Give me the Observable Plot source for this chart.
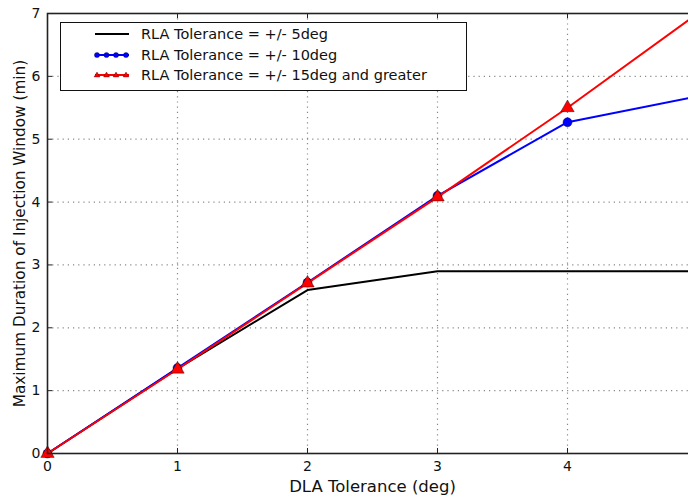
<!DOCTYPE html>
<html>
<head>
<meta charset="utf-8">
<script src="https://cdn.jsdelivr.net/npm/d3@7"></script>
<script src="https://cdn.jsdelivr.net/npm/@observablehq/plot@0.6"></script>
<style>
  html, body { margin: 0; padding: 0; background: #fff; overflow: hidden; }
  #wrap { position: relative; width: 688px; height: 497px; overflow: hidden; }
  #chart svg { max-width: none !important; }
  #legend { position: absolute; left: 60px; top: 22px; width: 405px; height: 67px;
    border: 1.5px solid #111; background: #fff; font-family: "DejaVu Sans", sans-serif; font-size: 14.5px; color: #111; }
  .row { position: absolute; left: 0; height: 20px; display: flex; align-items: center; white-space: nowrap; }
  .row svg { margin-left: 32px; margin-right: 10px; }
</style>
</head>
<body>
<div id="wrap"><div id="chart"></div><div id="legend"></div></div>
<script>
const dla = [0, 1, 2, 3, 4, 5];
const rla5 = [0, 1.35, 2.6, 2.9, 2.9, 2.9];
const rla10 = [0, 1.36, 2.72, 4.1, 5.27, 5.68];
const rla15 = [0, 1.34, 2.71, 4.08, 5.5, 7.0];
const xTicks = [0, 1, 2, 3, 4, 5];
const yTicks = [0, 1, 2, 3, 4, 5, 6, 7];
const seriesNames = ["RLA Tolerance = +/- 5deg", "RLA Tolerance = +/- 10deg", "RLA Tolerance = +/- 15deg and greater"];
const seriesColors = ["#000000", "#0000ff", "#ff0000"];
const xLabel = "DLA Tolerance (deg)";
const yLabel = "Maximum Duration of Injection Window (min)";

const toRows = (ys) => dla.map((x, i) => ({x, y: ys[i]}));
const s5 = toRows(rla5), s10 = toRows(rla10), s15 = toRows(rla15);

const chart = Plot.plot({
  width: 700,
  height: 497,
  marginLeft: 47,
  marginRight: 3,
  marginTop: 13,
  marginBottom: 44,
  style: {fontFamily: "DejaVu Sans, sans-serif", fontSize: "14px", color: "#111", background: "#fff", maxWidth: "none"},
  x: {domain: [0, 5]},
  y: {domain: [0, 7]},
  marks: [
    Plot.gridX(xTicks.slice(1, -1), {stroke: "#888", strokeOpacity: 1, strokeDasharray: "1.2,4", strokeWidth: 1.2}),
    Plot.gridY(yTicks.slice(1, -1), {stroke: "#888", strokeOpacity: 1, strokeDasharray: "1.2,4", strokeWidth: 1.2}),
    Plot.line(s5, {x: "x", y: "y", stroke: seriesColors[0], strokeWidth: 2}),
    Plot.line(s10, {x: "x", y: "y", stroke: seriesColors[1], strokeWidth: 2}),
    Plot.dot(s10, {x: "x", y: "y", fill: seriesColors[1], stroke: "#000", strokeWidth: 0.4, r: 4.5}),
    Plot.line(s15, {x: "x", y: "y", stroke: seriesColors[2], strokeWidth: 2}),
    Plot.dot(s15, {x: "x", y: "y", symbol: "triangle", fill: seriesColors[2], stroke: "#000", strokeWidth: 0.4, r: 5}),
    // inward ticks
    Plot.ruleX(xTicks, {x: d => d, y1: 0, y2: 0.08, stroke: "#222", strokeWidth: 1}),
    Plot.ruleX(xTicks, {x: d => d, y1: 6.92, y2: 7, stroke: "#222", strokeWidth: 1}),
    Plot.ruleY(yTicks, {y: d => d, x1: 0, x2: 0.04, stroke: "#222", strokeWidth: 1}),
    Plot.frame({stroke: "#222", strokeWidth: 1.6}),
    Plot.axisX(xTicks, {tickSize: 0, tickPadding: 8, tickFormat: "d", label: null, fontSize: 14}),
    Plot.axisY(yTicks, {tickSize: 0, tickPadding: 7, tickFormat: "d", label: null, fontSize: 14}),
    Plot.axisX({ticks: [], tickSize: 0, label: xLabel, labelAnchor: "center", labelArrow: "none", labelOffset: 38, fontSize: 16.5}),
    Plot.axisY({ticks: [], tickSize: 0, label: yLabel, labelAnchor: "center", labelArrow: "none", labelOffset: 33, fontSize: 15.3})
  ]
});
document.getElementById("chart").appendChild(chart);

// legend
const legend = document.getElementById("legend");
const rowTops = [1, 21.5, 42];
seriesNames.forEach((name, i) => {
  const row = document.createElement("div");
  row.className = "row";
  row.style.top = rowTops[i] + "px";
  const ns = "http://www.w3.org/2000/svg";
  const svg = document.createElementNS(ns, "svg");
  svg.setAttribute("width", 38); svg.setAttribute("height", 12);
  const line = document.createElementNS(ns, "line");
  line.setAttribute("x1", 2); line.setAttribute("x2", 36);
  line.setAttribute("y1", 6); line.setAttribute("y2", 6);
  line.setAttribute("stroke", seriesColors[i]); line.setAttribute("stroke-width", 2);
  svg.appendChild(line);
  if (i > 0) {
    [4, 13.5, 23, 33].forEach(cx => {
      if (i === 1) {
        const c = document.createElementNS(ns, "circle");
        c.setAttribute("cx", cx); c.setAttribute("cy", 6); c.setAttribute("r", 2.6);
        c.setAttribute("fill", seriesColors[i]); c.setAttribute("stroke", "#000"); c.setAttribute("stroke-width", 0.3);
        svg.appendChild(c);
      } else {
        const p = document.createElementNS(ns, "path");
        p.setAttribute("d", `M${cx},3 L${cx+3},8 L${cx-3},8 Z`);
        p.setAttribute("fill", seriesColors[i]); p.setAttribute("stroke", "#000"); p.setAttribute("stroke-width", 0.3);
        svg.appendChild(p);
      }
    });
  }
  row.appendChild(svg);
  const span = document.createElement("span");
  span.textContent = name;
  row.appendChild(span);
  legend.appendChild(row);
});
</script>
</body>
</html>
